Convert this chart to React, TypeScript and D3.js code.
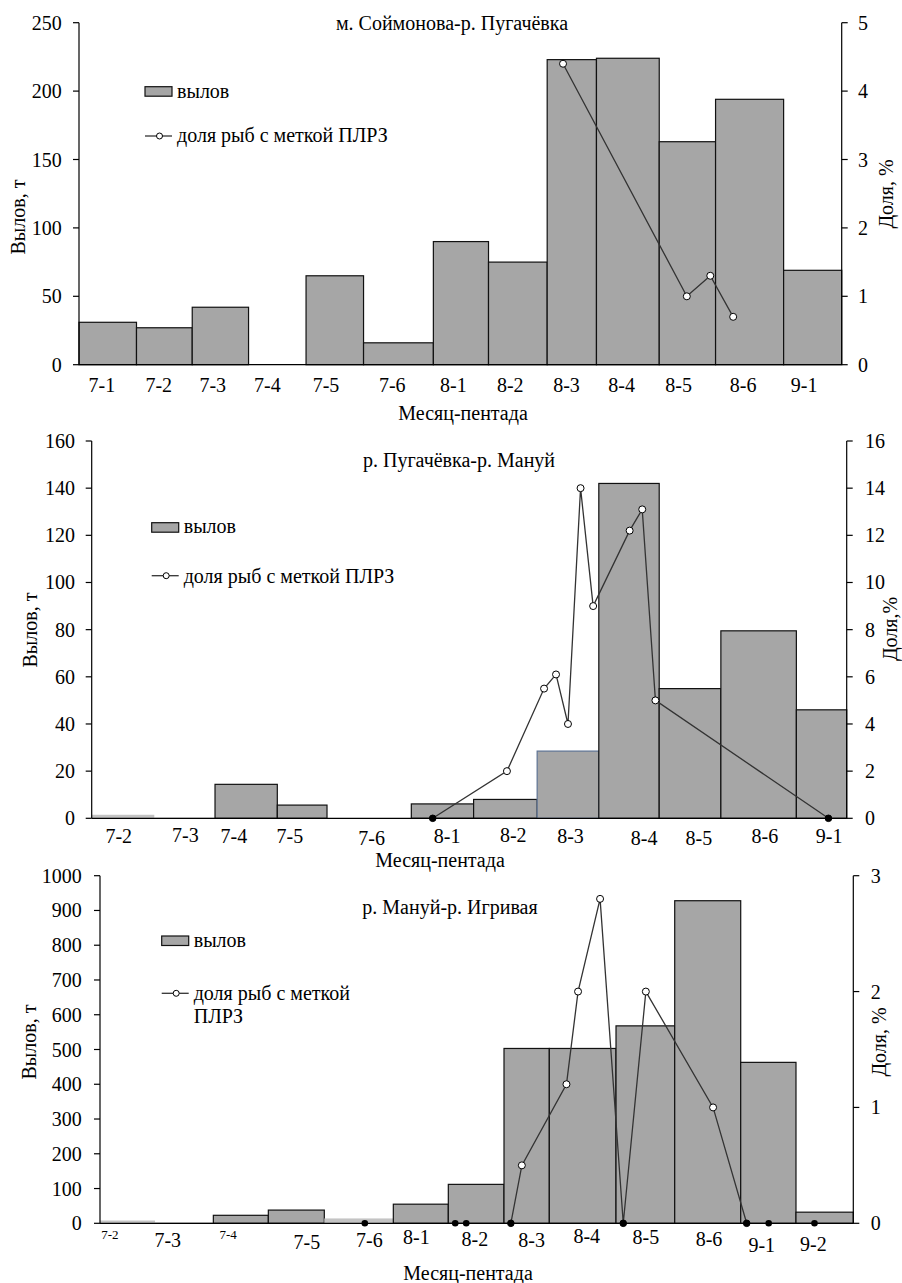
import React from "react";
import * as d3 from "d3";

// ---- panel 1: м. Соймонова-р. Пугачёвка ----
const p1Pentads = ["7-1", "7-2", "7-3", "7-4", "7-5", "7-6", "8-1", "8-2", "8-3", "8-4", "8-5", "8-6", "9-1"];
const p1Catch = [31, 27, 42, 0, 65, 16, 90, 75, 223, 224, 163, 194, 69];
const p1BarEdges = [0, 0.98, 1.93, 2.89, 3.87, 4.85, 6.04, 6.98, 7.98, 8.82, 9.89, 10.85, 12.01, 13];
const p1LabelPos = [0.39, 1.36, 2.28, 3.21, 4.21, 5.34, 6.38, 7.35, 8.31, 9.25, 10.22, 11.32, 12.36];
const p1ShareX = [8.25, 10.36, 10.76, 11.15];
const p1Share = [4.4, 1.0, 1.3, 0.7];

// ---- panel 2: р. Пугачёвка-р. Мануй ----
const p2Pentads = ["7-2", "7-3", "7-4", "7-5", "7-6", "8-1", "8-2", "8-3", "8-4", "8-5", "8-6", "9-1"];
const p2Catch = [1.5, 0.3, 14.4, 5.6, 0, 6.1, 8, 28.5, 142, 55, 79.5, 46];
const p2BarEdges = [0, 0.995, 1.96, 2.95, 3.74, 5.08, 6.07, 7.08, 8.06, 9.02, 10.0, 11.2, 12];
const p2LabelPos = [0.43, 1.49, 2.26, 3.15, 4.45, 5.65, 6.7, 7.61, 8.78, 9.65, 10.7, 11.72];
const p2ShareX = [5.42, 6.6, 7.19, 7.38, 7.57, 7.77, 7.97, 8.55, 8.75, 8.96, 11.71];
const p2Share = [0, 2, 5.5, 6.1, 4, 14, 9, 12.2, 13.1, 5, 0];

// ---- panel 3: р. Мануй-р. Игривая ----
const p3Pentads = ["7-2", "7-3", "7-4", "7-5", "7-6", "8-1", "8-2", "8-3", "8-4", "8-5", "8-6", "9-1", "9-2"];
const p3Catch = [8, 3, 23, 38, 14, 55, 112, 503, 503, 568, 928, 463, 32];
const p3BarEdges = [0, 0.95, 1.956, 2.905, 3.871, 5.062, 6.011, 6.972, 7.754, 8.905, 9.918, 11.057, 12.011, 13];
const p3LabelPos = [0.17, 1.17, 2.21, 3.57, 4.65, 5.46, 6.47, 7.45, 8.4, 9.42, 10.51, 11.42, 12.31];
const p3ShareX = [7.09, 7.28, 8.05, 8.25, 8.63, 9.03, 9.42, 10.58, 11.16];
const p3Share = [0, 0.5, 1.2, 2.0, 2.8, 0, 2.0, 1.0, 0];
const p3ZeroX = [4.57, 6.13, 6.32, 11.54, 12.33];

const FONT = '"Liberation Serif", "Times New Roman", serif';

const panels = [
  {
    title: "м. Соймонова-р. Пугачёвка", titleX: 452, titleY: 30,
    left: 79, right: 841.7, top: 22.7, bottom: 364.7, slots: 13,
    yMax: 250, yStep: 50, y2Max: 5, y2Step: 1,
    pentads: p1Pentads, values: p1Catch, edges: p1BarEdges, labelPos: p1LabelPos,
    shareX: p1ShareX, share: p1Share, zeroX: [] as number[],
    labelY: 392, labelDy: [] as number[], smallLabels: [] as string[],
    faint: [] as string[], blueEdge: [] as string[],
    yTitle: [17.5, 217], y2Title: [886, 194], y2Text: "Доля, %",
    xTitle: [463, 420], ytl: 61.7, y2tl: 858,
    legend: { x: 145, rectY: 86.7, textY: 98.3, lineY: 136, lineTextY: 141.7, wrap: false },
  },
  {
    title: "р. Пугачёвка-р. Мануй", titleX: 459, titleY: 466.7,
    left: 91.7, right: 846.7, top: 441, bottom: 818.3, slots: 12,
    yMax: 160, yStep: 20, y2Max: 16, y2Step: 2,
    pentads: p2Pentads, values: p2Catch, edges: p2BarEdges, labelPos: p2LabelPos,
    shareX: p2ShareX, share: p2Share, zeroX: [] as number[],
    labelY: 843, labelDy: [0, -1, 0, 0, 2, 0, -1, 0, 2, 2, 0, 0],
    smallLabels: [] as string[],
    faint: ["7-2", "7-3"], blueEdge: ["8-3"],
    yTitle: [30, 630], y2Title: [890, 629], y2Text: "Доля,%",
    xTitle: [440, 867], ytl: 75, y2tl: 865,
    legend: { x: 151.7, rectY: 522.7, textY: 533.3, lineY: 575.7, lineTextY: 582.7, wrap: false },
  },
  {
    title: "р. Мануй-р. Игривая", titleX: 450, titleY: 914,
    left: 100, right: 853.3, top: 875.7, bottom: 1223.3, slots: 13,
    yMax: 1000, yStep: 100, y2Max: 3, y2Step: 1,
    pentads: p3Pentads, values: p3Catch, edges: p3BarEdges, labelPos: p3LabelPos,
    shareX: p3ShareX, share: p3Share, zeroX: p3ZeroX,
    labelY: 1247, labelDy: [-8, 0, -8, 2, 0, -3, -1, 0, -4, -3, -1, 5, 4],
    smallLabels: ["7-2", "7-4"],
    faint: ["7-2", "7-3", "7-6"], blueEdge: [] as string[],
    yTitle: [29, 1042], y2Title: [879, 1042], y2Text: "Доля, %",
    xTitle: [468, 1280], ytl: 81.7, y2tl: 870.7,
    legend: { x: 161.7, rectY: 936, textY: 947.3, lineY: 993.3, lineTextY: 1000, wrap: true },
  },
];

type Cfg = (typeof panels)[number];

function Panel({ c }: { c: Cfg }) {
  const x = d3.scaleLinear().domain([0, c.slots]).range([c.left, c.right]);
  const y = d3.scaleLinear().domain([0, c.yMax]).range([c.bottom, c.top]);
  const y2 = d3.scaleLinear().domain([0, c.y2Max]).range([c.bottom, c.top]);
  const yTicks = d3.range(0, c.yMax + c.yStep / 2, c.yStep);
  const y2Ticks = d3.range(0, c.y2Max + c.y2Step / 2, c.y2Step);
  const pts: [number, number][] = c.shareX.map((d, i) => [d, c.share[i]]);
  const line = d3.line<[number, number]>().x((d) => x(d[0])).y((d) => y2(d[1]));
  const lg = c.legend;

  return (
    <g style={{ fontFamily: FONT }} fill="#000">
      {/* bars */}
      {c.values.map((v, i) => {
        if (!v) return null;
        const x0 = x(c.edges[i]);
        const x1 = x(c.edges[i + 1]);
        const faint = c.faint.includes(c.pentads[i]);
        return (
          <rect
            key={i}
            x={x0}
            y={y(v)}
            width={x1 - x0}
            height={y(0) - y(v)}
            fill={faint ? "#c4c4c4" : "#a6a6a6"}
            stroke={faint ? "none" : c.blueEdge.includes(c.pentads[i]) ? "#5d7394" : "#111"}
            strokeWidth={1.2}
          />
        );
      })}

      {/* axes */}
      <line x1={c.left} x2={c.left} y1={c.top} y2={c.bottom} stroke="#000" strokeWidth={1.2} />
      <line x1={c.right} x2={c.right} y1={c.top} y2={c.bottom} stroke="#000" strokeWidth={1.2} />
      <line x1={c.left} x2={c.right} y1={c.bottom} y2={c.bottom} stroke="#000" strokeWidth={1.2} />
      {yTicks.map((t) => (
        <g key={"l" + t}>
          <line x1={c.left - 6} x2={c.left} y1={y(t)} y2={y(t)} stroke="#000" strokeWidth={1.2} />
          <text x={c.ytl} y={y(t)} dy="0.35em" textAnchor="end" fontSize={20}>{t}</text>
        </g>
      ))}
      {y2Ticks.map((t) => (
        <g key={"r" + t}>
          <line x1={c.right} x2={c.right + 6} y1={y2(t)} y2={y2(t)} stroke="#000" strokeWidth={1.2} />
          <text x={c.y2tl} y={y2(t)} dy="0.35em" textAnchor="start" fontSize={20}>{t}</text>
        </g>
      ))}

      {/* x labels */}
      {c.pentads.map((p, i) => (
        <text
          key={"x" + p}
          x={x(c.labelPos[i])}
          y={c.labelY + (c.labelDy[i] || 0)}
          textAnchor="middle"
          fontSize={c.smallLabels.includes(p) ? 13 : 20}
        >
          {p}
        </text>
      ))}

      {/* share line */}
      <path d={line(pts) || ""} fill="none" stroke="#333" strokeWidth={1.3} />
      {pts.map((d, i) => (
        <circle
          key={"p" + i}
          cx={x(d[0])}
          cy={y2(d[1])}
          r={d[1] === 0 ? 3.3 : 3.5}
          fill={d[1] === 0 ? "#000" : "#fff"}
          stroke="#000"
          strokeWidth={1}
        />
      ))}
      {c.zeroX.map((d, i) => (
        <circle key={"z" + i} cx={x(d)} cy={y2(0)} r={3.3} fill="#000" />
      ))}

      {/* titles */}
      <text x={c.titleX} y={c.titleY} textAnchor="middle" fontSize={20}>{c.title}</text>
      <text x={c.xTitle[0]} y={c.xTitle[1]} textAnchor="middle" fontSize={20}>Месяц-пентада</text>
      <text
        transform={`translate(${c.yTitle[0]},${c.yTitle[1]}) rotate(-90)`}
        textAnchor="middle"
        dominantBaseline="central"
        fontSize={20}
      >
        Вылов, т
      </text>
      <text
        transform={`translate(${c.y2Title[0]},${c.y2Title[1]}) rotate(-90)`}
        textAnchor="middle"
        dominantBaseline="central"
        fontSize={20}
      >
        {c.y2Text}
      </text>

      {/* legend */}
      <rect x={lg.x} y={lg.rectY} width={27} height={9.5} fill="#a6a6a6" stroke="#111" strokeWidth={1.2} />
      <text x={lg.x + 32} y={lg.textY} fontSize={20}>вылов</text>
      <line x1={lg.x} x2={lg.x + 27} y1={lg.lineY} y2={lg.lineY} stroke="#333" strokeWidth={1.3} />
      <circle cx={lg.x + 14.5} cy={lg.lineY} r={3} fill="#fff" stroke="#000" strokeWidth={1} />
      {lg.wrap ? (
        <text x={lg.x + 32} y={lg.lineTextY} fontSize={20}>
          <tspan>доля рыб с меткой</tspan>
          <tspan x={lg.x + 32} dy={23.3}>ПЛРЗ</tspan>
        </text>
      ) : (
        <text x={lg.x + 32} y={lg.lineTextY} fontSize={20}>доля рыб с меткой ПЛРЗ</text>
      )}
    </g>
  );
}

export default function App() {
  return (
    <svg
      width={902}
      height={1283}
      style={{ position: "absolute", left: 0, top: 0, background: "#fff" }}
    >
      <rect width={902} height={1283} fill="#fff" />
      {panels.map((c, i) => (
        <Panel key={i} c={c} />
      ))}
    </svg>
  );
}
